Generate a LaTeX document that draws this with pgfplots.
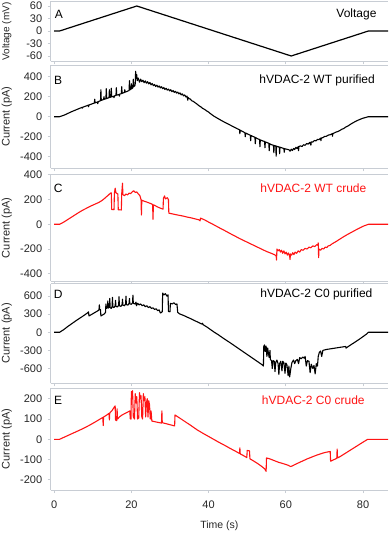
\documentclass[border=0pt]{standalone}
\usepackage{fontspec}
\setmainfont{Liberation Sans}
\usepackage{pgfplots}
\pgfplotsset{compat=1.18}
\definecolor{axisgray}{RGB}{200,205,212}
\definecolor{tracered}{RGB}{255,20,20}
\tikzset{
  paneltag/.style={font=\fontsize{12}{13}\selectfont, anchor=center},
  paneltitle/.style={font=\fontsize{12}{13}\selectfont, anchor=east},
}
\pgfplotsset{
  panel/.style={
    scale only axis, width=337.4pt, anchor=north west,
    xmin=-0.9, xmax=86.5,
    axis x line*=box, axis y line*=left,
    axis line style={-, draw=axisgray, line width=0.8pt},
    tick style={draw=axisgray, line width=0.8pt},
    tick align=outside, major tick length=3pt,
    xtick={0,20,40,60,80}, xticklabels={}, xtick pos=bottom, ytick pos=left,
    /pgf/number format/assume math mode=true,
    ticklabel style={font=\fontsize{11}{12}\selectfont, text=black!85},
    yticklabel style={xshift=-2pt},
    every axis y label/.style={at={(rel axis cs:0,0.5)}, rotate=90, anchor=center, yshift=44pt, font=\fontsize{11}{12}\selectfont, text=black!85},
    ylabel={Current (pA)},
    clip=true,
  },
}
\begin{document}
\begin{tikzpicture}
\path[use as bounding box] (0,0) rectangle (389pt,-534pt);

% A: applied voltage
\begin{axis}[panel, at={(50.7pt,-1.5pt)}, height=60pt,
  ymin=-73.2, ymax=70.8, ytick={-60,-30,0,30,60},
  ylabel={Voltage (mV)}, ylabel style={font=\fontsize{10}{11}\selectfont}]
\addplot[black, line width=1.2pt] coordinates {(0,0)(1.4,0)(21.4,60)(61.4,-60)(81.4,0)(86.5,0)};
\node[paneltag] at (rel axis cs:0.024,0.79) {A};
\node[paneltitle] at (rel axis cs:0.976,0.79) {Voltage};
\end{axis}

% B: hVDAC-2 WT purified
\begin{axis}[panel, at={(50.7pt,-65pt)}, height=103.3pt,
  ymin=-516, ymax=517, ytick={-400,-200,0,200,400}]
\addplot[black, line width=1.1pt, line join=round] coordinates {
(0,0)(1.4,0)(2.5,14)(3.5,32)(4.5,50)(5.5,66)(6.5,82)(7.2,93)(7.3,85)(7.4,95)(8.2,106)(8.8,115)(8.9,100)(9.0,117)
(9.8,128)(10.4,136)(10.5,175)(10.6,138)(11.2,147)(11.3,130)(11.4,150)(12.0,160)(12.1,270)(12.2,163)(12.8,172)
(12.9,200)(13.0,174)(13.4,180)(13.5,280)(13.6,182)(14.2,190)(14.3,270)(14.4,193)(14.7,196)(14.8,285)(14.9,198)
(15.4,205)(15.5,190)(15.6,208)(16.0,212)(16.1,290)(16.2,215)(16.8,222)(16.9,205)(17.0,226)(17.4,230)(17.5,300)
(17.6,234)(18.2,242)(18.3,270)(18.4,245)(19.0,255)(19.4,262)(19.5,360)(19.6,268)(19.9,275)(20.0,330)(20.1,280)
(20.4,290)(20.5,375)(20.6,300)(20.9,310)(21.0,330)(21.1,455)(21.2,380)(21.4,420)(21.5,360)(21.8,385)(22.1,345)
(22.4,375)(22.7,350)(23.0,365)(23.3,340)(23.6,358)(23.9,335)(24.2,350)(24.5,328)(24.8,342)(25.1,318)(25.4,332)
(25.7,310)(26.0,322)(26.3,302)(26.6,315)(26.9,296)(27.2,308)(27.5,288)(27.8,300)(28.1,280)(28.4,292)(28.7,272)
(29.0,284)(29.3,266)(29.6,276)(29.9,258)(30.2,270)(30.5,250)(30.8,262)(31.1,243)(31.4,254)(31.7,236)(32.0,246)
(32.3,228)(32.6,238)(32.9,218)(33.2,228)(33.5,208)(33.8,218)(34.1,198)(34.4,206)(34.6,165)(34.7,192)(35.0,180)
(35.3,176)(35.6,160)(36.0,154)(36.5,140)(37.0,126)(37.5,110)(38.0,98)(38.5,82)(39.0,72)(39.5,58)(40.0,46)
(40.5,30)(41.4,5)(42.5,-20)(43.5,-42)(44.5,-62)(45.5,-82)(46.5,-102)(47.5,-122)
(48.0,-130)(48.1,-170)(48.2,-135)(48.8,-148)(49.4,-160)(49.5,-200)(49.6,-163)(50.2,-175)(50.8,-185)(50.9,-240)
(51.0,-188)(51.6,-200)(52.0,-205)(52.1,-270)(52.2,-210)(52.8,-222)(53.2,-228)(53.3,-300)(53.4,-232)(54.0,-242)
(54.5,-248)(54.6,-310)(54.7,-252)(55.2,-260)(55.6,-265)(55.7,-340)(55.8,-270)(56.3,-280)(56.8,-285)(56.9,-360)
(57.0,-288)(57.4,-292)(57.5,-395)(57.6,-295)(58.0,-300)(58.3,-302)(58.4,-370)(58.5,-305)(59.0,-312)(59.5,-318)
(59.6,-355)(59.7,-320)(60.2,-325)(60.8,-330)(61.1,-345)(61.4,-325)(61.7,-338)(62.0,-318)(62.3,-328)(62.6,-306)
(62.9,-318)(63.2,-300)(63.3,-340)(63.4,-298)(63.8,-292)(64.2,-298)(64.6,-280)(65.0,-286)(65.4,-268)(65.8,-274)
(66.2,-256)(66.5,-285)(66.6,-252)(67.0,-254)(67.4,-238)(67.8,-242)(68.2,-226)(68.6,-230)(69.0,-214)(69.1,-240)
(69.2,-212)(69.6,-210)(70.0,-198)(70.5,-196)(71.0,-184)(71.5,-180)(72.0,-170)(72.1,-195)(72.2,-168)(72.6,-162)
(73.0,-154)(73.5,-148)(74.0,-138)(74.5,-126)(75.0,-118)(75.5,-104)(76.0,-95)(77.0,-70)(78.0,-48)(79.0,-30)
(80.0,-15)(81.4,0)(86.5,0)
};
\node[paneltag] at (rel axis cs:0.022,0.855) {B};
\node[paneltitle] at (rel axis cs:0.971,0.855) {hVDAC-2 WT purified};
\end{axis}

% C: hVDAC-2 WT crude
\begin{axis}[panel, at={(50.7pt,-174.5pt)}, height=106.5pt,
  ymin=-459, ymax=403, ytick={-400,-200,0,200,400}]
\addplot[tracered, line width=1.1pt, line join=round] coordinates {
(0,0)(1.4,0)(2.5,18)(3.5,38)(4.5,58)(5.5,78)(6.5,98)(7.5,116)(8.5,132)(9.5,148)(10.5,162)(11.5,176)(12.0,185)
(12.5,195)(13.0,208)(13.5,222)(14.0,235)(14.5,250)(14.8,255)(14.9,120)(15.5,118)(15.6,250)(15.8,292)(16.0,255)
(16.5,245)(16.6,118)(17.4,116)(17.5,250)(17.7,332)(17.8,240)(18.2,232)(18.6,245)(19.0,238)(19.4,252)(19.8,248)
(20.2,262)(20.6,272)(21.0,258)(21.4,262)(21.8,245)(22.2,232)(22.5,200)(22.6,75)(22.7,195)(23.2,188)(23.8,182)
(24.4,175)(25.0,168)(25.5,160)(25.6,40)(25.7,158)(26.2,150)(26.8,140)(27.4,132)(28.0,125)(28.2,122)(28.3,210)
(28.6,230)(28.8,205)(29.3,215)(29.6,200)(29.7,90)(30.5,85)(31.5,78)(32.5,72)(33.5,66)(34.5,58)(35.5,52)
(36.5,44)(37.5,36)(37.8,28)(37.9,50)(38.2,46)(39.0,35)(40.0,18)(41.0,2)(42.0,-15)(43.0,-32)(44.0,-48)(45.0,-65)
(46.0,-82)(47.0,-98)(48.0,-115)(49.0,-130)(50.0,-145)(51.0,-160)(52.0,-175)(53.0,-190)(54.0,-205)(55.0,-220)
(56.0,-232)(57.0,-245)(57.5,-255)(57.6,-290)(57.7,-200)(58.0,-215)(58.3,-205)(58.6,-225)(58.9,-210)(59.2,-235)
(59.5,-215)(59.8,-240)(60.1,-225)(60.4,-250)(60.7,-232)(61.0,-260)(61.1,-285)(61.2,-240)(61.5,-250)(61.8,-230)
(62.1,-245)(62.4,-225)(62.8,-235)(63.2,-215)(63.6,-225)(64.0,-205)(64.5,-210)(65.0,-195)(65.5,-200)(66.0,-185)
(66.5,-190)(67.0,-175)(67.5,-180)(68.0,-165)(68.3,-170)(68.4,-150)(68.5,-270)(68.6,-200)(69.0,-210)(69.4,-195)
(69.8,-200)(70.2,-185)(70.6,-188)(71.0,-175)(71.5,-170)(72.0,-158)(73.0,-140)(74.0,-120)(75.0,-100)(76.0,-82)
(77.0,-65)(78.0,-48)(79.0,-32)(80.0,-16)(81.4,0)(86.5,0)
};
\node[paneltag] at (rel axis cs:0.022,0.87) {C};
\node[paneltitle, text=tracered] at (rel axis cs:0.946,0.87) {hVDAC-2 WT crude};
\end{axis}

% D: hVDAC-2 C0 purified
\begin{axis}[panel, at={(50.7pt,-283.5pt)}, height=99.8pt,
  ymin=-846, ymax=809, ytick={-600,-300,0,300,600}]
\addplot[black, line width=1.1pt, line join=round] coordinates {
(0,0)(1.4,0)(2.5,45)(3.5,95)(4.5,140)(5.5,185)(6.5,228)(7.5,270)(8.5,315)(8.9,340)(9.0,270)(9.8,300)(10.6,330)
(11.4,360)(11.6,372)(11.7,455)(11.8,370)(12.0,375)(12.1,270)(12.6,290)(13.0,305)(13.3,330)(13.4,470)(13.5,395)
(13.8,410)(13.9,520)(14.0,400)(14.3,420)(14.4,560)(14.5,410)(14.8,395)(15.0,430)(15.1,580)(15.2,420)(15.5,410)
(15.8,440)(15.9,530)(16.0,430)(16.4,420)(16.7,450)(16.8,590)(16.9,440)(17.3,430)(17.6,460)(17.7,550)(17.8,450)
(18.2,440)(18.5,470)(18.6,600)(18.7,460)(19.1,450)(19.4,480)(19.5,560)(19.6,470)(20.0,465)(20.3,490)(20.4,615)
(20.5,480)(20.9,470)(21.2,500)(21.3,440)(21.6,480)(22.0,455)(22.4,470)(22.8,440)(23.2,455)(23.6,425)(24.0,440)
(24.4,410)(24.8,425)(25.2,395)(25.6,405)(26.0,380)(26.4,390)(26.8,360)(27.2,370)(27.5,320)(27.8,330)(28.0,340)
(28.1,650)(28.4,620)(28.8,640)(29.2,600)(29.5,620)(29.6,345)(30.0,340)(30.1,480)(30.6,470)(31.0,490)(31.5,460)
(31.8,470)(32.0,330)(32.5,305)(33.5,280)(34.5,250)(35.5,222)(36.5,190)(37.5,160)(38.3,135)(38.4,150)(38.6,125)
(39.5,90)(40.5,45)(41.5,0)(42.5,-40)(43.5,-85)(44.5,-128)(45.5,-170)(46.5,-214)(47.5,-258)(48.5,-302)(49.5,-346)
(50.5,-390)(51.5,-434)(52.5,-478)(53.5,-522)(54.0,-545)(54.2,-560)(54.3,-230)(54.5,-210)(54.7,-320)(54.9,-230)
(55.1,-400)(55.3,-260)(55.5,-350)(55.7,-420)(55.9,-300)(56.0,-450)(56.3,-470)(56.5,-600)(56.7,-470)(57.0,-480)
(57.2,-650)(57.4,-500)(57.7,-460)(58.0,-520)(58.2,-700)(58.4,-520)(58.7,-480)(59.0,-640)(59.2,-480)(59.5,-500)
(59.8,-680)(60.0,-510)(60.3,-540)(60.6,-720)(60.8,-560)(61.0,-740)(61.3,-600)(61.6,-500)(62.0,-460)(62.3,-520)
(62.6,-470)(63.0,-450)(63.3,-520)(63.6,-420)(64.0,-440)(64.4,-410)(64.8,-430)(65.0,-400)(65.3,-560)(65.6,-470)
(66.0,-480)(66.3,-670)(66.6,-530)(67.0,-600)(67.3,-550)(67.6,-690)(67.9,-520)(68.2,-560)(68.4,-400)(68.7,-330)
(69.0,-310)(69.3,-400)(69.6,-300)(70.5,-285)(72.0,-270)(73.5,-255)(75.5,-235)(75.6,-262)(76.5,-222)(78.0,-160)
(79.5,-95)(81.0,-25)(81.4,0)(86.5,0)
};
\node[paneltag] at (rel axis cs:0.022,0.892) {D};
\node[paneltitle] at (rel axis cs:0.964,0.892) {hVDAC-2 C0 purified};
\end{axis}

% E: hVDAC-2 C0 crude
\begin{axis}[panel, at={(50.7pt,-388pt)}, height=102pt,
  ymin=-250, ymax=253, ytick={-200,-100,0,100,200},
  xticklabels={0,20,40,60,80}, xticklabel style={yshift=-4pt},
  xlabel={Time (s)},
  xlabel style={at={(rel axis cs:0.5,0)}, anchor=center, yshift=-36pt, font=\fontsize{10.5}{12}\selectfont, text=black!85}]
\addplot[tracered, line width=1.1pt, line join=round] coordinates {
(0,0)(1.4,0)(3.0,14)(4.5,27)(6.0,40)(7.6,54)(9.0,68)(10.5,84)(11.9,100)(12.6,108)(12.7,68)(12.8,110)(13.5,118)
(14.2,128)(14.3,95)(14.4,130)(15.0,142)(15.6,160)(15.8,165)(15.9,95)(16.2,92)(16.3,150)(16.4,100)(17.0,112)
(17.6,120)(18.2,126)(18.8,132)(19.4,138)(19.6,140)(19.7,102)(19.9,100)(20.0,235)(20.1,200)(20.3,240)(20.5,110)
(20.8,100)(21.0,225)(21.2,180)(21.4,210)(21.6,100)(21.9,105)(22.1,230)(22.3,200)(22.5,215)(22.7,110)(22.9,100)
(23.1,225)(23.3,190)(23.5,210)(23.7,110)(23.9,180)(24.1,200)(24.3,110)(24.5,190)(24.7,170)(24.9,100)(25.1,140)
(25.3,90)(25.8,88)(26.5,85)(27.3,82)(27.8,80)(27.9,140)(28.0,82)(28.8,78)(29.6,74)(30.4,70)(31.2,66)(31.3,120)
(32.5,105)(34.0,86)(35.5,67)(37.0,47)(38.5,30)(40.0,14)(41.3,0)(42.5,-13)(44.0,-28)(45.5,-44)(47.0,-59)(48.0,-70)
(48.1,-42)(48.2,-72)(49.0,-80)(49.9,-90)(50.0,-55)(50.6,-57)(50.7,-96)(51.5,-105)(52.5,-117)(53.5,-130)
(54.5,-145)(54.9,-158)(55.0,-92)(55.8,-96)(56.6,-102)(57.4,-108)(58.2,-114)(59.0,-118)(59.8,-123)(60.6,-128)
(61.2,-134)(61.6,-132)(62.4,-124)(63.2,-117)(64.0,-110)(64.8,-103)(65.6,-96)(66.4,-90)(67.2,-84)(68.0,-78)
(68.8,-73)(69.6,-68)(70.4,-64)(71.5,-60)(71.6,-108)(72.5,-100)(73.2,-94)(73.3,-48)(73.4,-92)(74.0,-86)(75.0,-74)
(76.0,-62)(77.0,-50)(78.0,-38)(79.0,-26)(80.0,-14)(81.2,0)(86.5,0)
};
\node[paneltag] at (rel axis cs:0.022,0.882) {E};
\node[paneltitle, text=tracered] at (rel axis cs:0.941,0.882) {hVDAC-2 C0 crude};
\end{axis}
\end{tikzpicture}
\end{document}
